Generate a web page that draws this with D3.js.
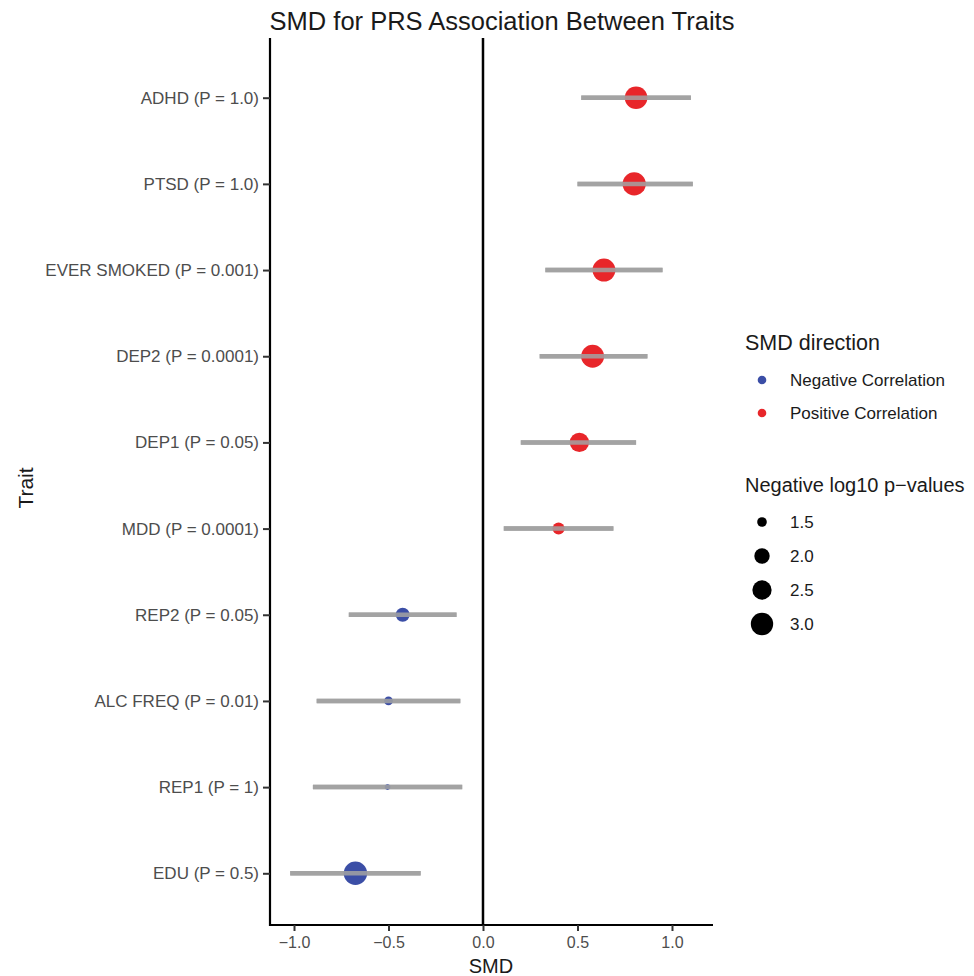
<!DOCTYPE html>
<html>
<head>
<meta charset="utf-8">
<script src="https://cdn.jsdelivr.net/npm/d3@7"></script>
<style>
  html, body { margin: 0; padding: 0; background: #fff; }
  svg { display: block; font-family: "Liberation Sans", Arial, sans-serif; }
</style>
</head>
<body>
<svg id="chart" width="974" height="976"></svg>
<script>
// ---- data ----
const traits = ["ADHD (P = 1.0)", "PTSD (P = 1.0)", "EVER SMOKED (P = 0.001)", "DEP2 (P = 0.0001)",
  "DEP1 (P = 0.05)", "MDD (P = 0.0001)", "REP2 (P = 0.05)", "ALC FREQ (P = 0.01)", "REP1 (P = 1)", "EDU (P = 0.5)"];
const smd      = [0.81, 0.80, 0.64, 0.58, 0.51, 0.40, -0.425, -0.50, -0.505, -0.675];
const ciLower  = [0.52, 0.50, 0.33, 0.30, 0.20, 0.11, -0.71, -0.88, -0.90, -1.02];
const ciUpper  = [1.10, 1.11, 0.95, 0.87, 0.81, 0.69, -0.14, -0.12, -0.11, -0.33];
const negLog10P = [3.05, 3.15, 3.1, 3.1, 2.5, 1.67, 1.85, 1.45, 1.33, 3.18];
const directionLabels = ["Negative Correlation", "Positive Correlation"];
const directionColors = ["#3b4ea6", "#e8262a"];
const sizeLegendValues = [1.5, 2.0, 2.5, 3.0];
const xTicks = [-1.0, -0.5, 0.0, 0.5, 1.0];

const data = traits.map((t, i) => ({
  trait: t, smd: smd[i], lo: ciLower[i], hi: ciUpper[i], nlp: negLog10P[i],
  dir: smd[i] < 0 ? 0 : 1
}));

// ---- layout ----
const svg = d3.select("#chart");
const panel = { left: 270, right: 713, top: 46, bottom: 925 };

const x = d3.scaleLinear().domain([-1.127, 1.217]).range([panel.left, panel.right]);
const y = d3.scalePoint().domain(traits).range([panel.top, panel.bottom]).padding(0.6);
const sizeDomain = [1.3, 3.3];
const sizeRange = [1.5, 12];
const rScale = v => {
  const t = Math.max(0, Math.min(1, (v - sizeDomain[0]) / (sizeDomain[1] - sizeDomain[0])));
  return sizeRange[0] + (sizeRange[1] - sizeRange[0]) * Math.sqrt(t);
};
const color = d3.scaleOrdinal().domain([0, 1]).range(directionColors);

// title
svg.append("text").attr("x", 502).attr("y", 30).attr("text-anchor", "middle")
  .attr("font-size", 25.5).attr("fill", "#1a1a1a").text("SMD for PRS Association Between Traits");

// zero line
svg.append("line").attr("x1", x(0)).attr("x2", x(0)).attr("y1", panel.top - 8).attr("y2", panel.bottom)
  .attr("stroke", "#000").attr("stroke-width", 2.5);

// CI bars
svg.append("g").selectAll("line").data(data).join("line")
  .attr("x1", d => x(d.lo)).attr("x2", d => x(d.hi))
  .attr("y1", d => y(d.trait)).attr("y2", d => y(d.trait))
  .attr("stroke", "#a3a3a3").attr("stroke-width", 4.5);

// points
svg.append("g").selectAll("circle").data(data).join("circle")
  .attr("cx", d => x(d.smd)).attr("cy", d => y(d.trait)).attr("r", d => rScale(d.nlp))
  .attr("fill", d => color(d.dir));

// CI bars over points (grey line visible across the dot)
svg.append("g").selectAll("line").data(data).join("line")
  .attr("x1", d => x(d.lo)).attr("x2", d => x(d.hi))
  .attr("y1", d => y(d.trait)).attr("y2", d => y(d.trait))
  .attr("stroke", "#a3a3a3").attr("stroke-width", 4.5).attr("opacity", 0.85);

// axes
const fmt = d3.format(".1f");
const xAxis = svg.append("g").attr("transform", `translate(0,${panel.bottom})`)
  .call(d3.axisBottom(x).tickValues(xTicks).tickFormat(fmt).tickSize(6).tickSizeOuter(0));
xAxis.select(".domain").attr("stroke", "#000").attr("stroke-width", 2.2)
  .attr("d", `M${panel.left - 1},0H${panel.right}`);
xAxis.selectAll(".tick line").attr("stroke", "#333").attr("stroke-width", 2);
xAxis.selectAll(".tick text").attr("font-size", 16).attr("fill", "#4d4d4d").attr("y", 9).attr("dy", "0.9em")
  .text(d => d < 0 ? "\u2212" + fmt(-d) : fmt(d));

const yAxis = svg.append("g").attr("transform", `translate(${panel.left},0)`)
  .call(d3.axisLeft(y).tickSize(7).tickSizeOuter(0));
yAxis.select(".domain").attr("stroke", "#000").attr("stroke-width", 2.2)
  .attr("d", `M0,${panel.top - 8}V${panel.bottom + 1}`);
yAxis.selectAll(".tick line").attr("stroke", "#333").attr("stroke-width", 2);
yAxis.selectAll(".tick text").attr("font-size", 17).attr("fill", "#4d4d4d").attr("x", -11);

// axis titles
svg.append("text").attr("x", 491).attr("y", 973).attr("text-anchor", "middle")
  .attr("font-size", 20).attr("fill", "#1a1a1a").text("SMD");
svg.append("text").attr("transform", `translate(33,${488}) rotate(-90)`)
  .attr("text-anchor", "middle").attr("font-size", 21).attr("fill", "#1a1a1a").text("Trait");

// legend: direction
const lg = svg.append("g");
lg.append("text").attr("x", 745).attr("y", 350).attr("font-size", 21.5).attr("fill", "#1a1a1a").text("SMD direction");
directionLabels.forEach((lab, i) => {
  const yy = 380 + i * 33;
  lg.append("circle").attr("cx", 762).attr("cy", yy).attr("r", 4.3).attr("fill", directionColors[i]);
  lg.append("text").attr("x", 790).attr("y", yy + 6).attr("font-size", 17).attr("fill", "#1a1a1a").text(lab);
});

// legend: size
lg.append("text").attr("x", 745).attr("y", 492).attr("font-size", 20).attr("fill", "#1a1a1a").text("Negative log10 p\u2212values");
sizeLegendValues.forEach((v, i) => {
  const yy = 522 + i * 34;
  lg.append("circle").attr("cx", 762).attr("cy", yy).attr("r", rScale(v)).attr("fill", "#000");
  lg.append("text").attr("x", 790).attr("y", yy + 6).attr("font-size", 17).attr("fill", "#1a1a1a").text(fmt(v));
});
</script>
</body>
</html>
